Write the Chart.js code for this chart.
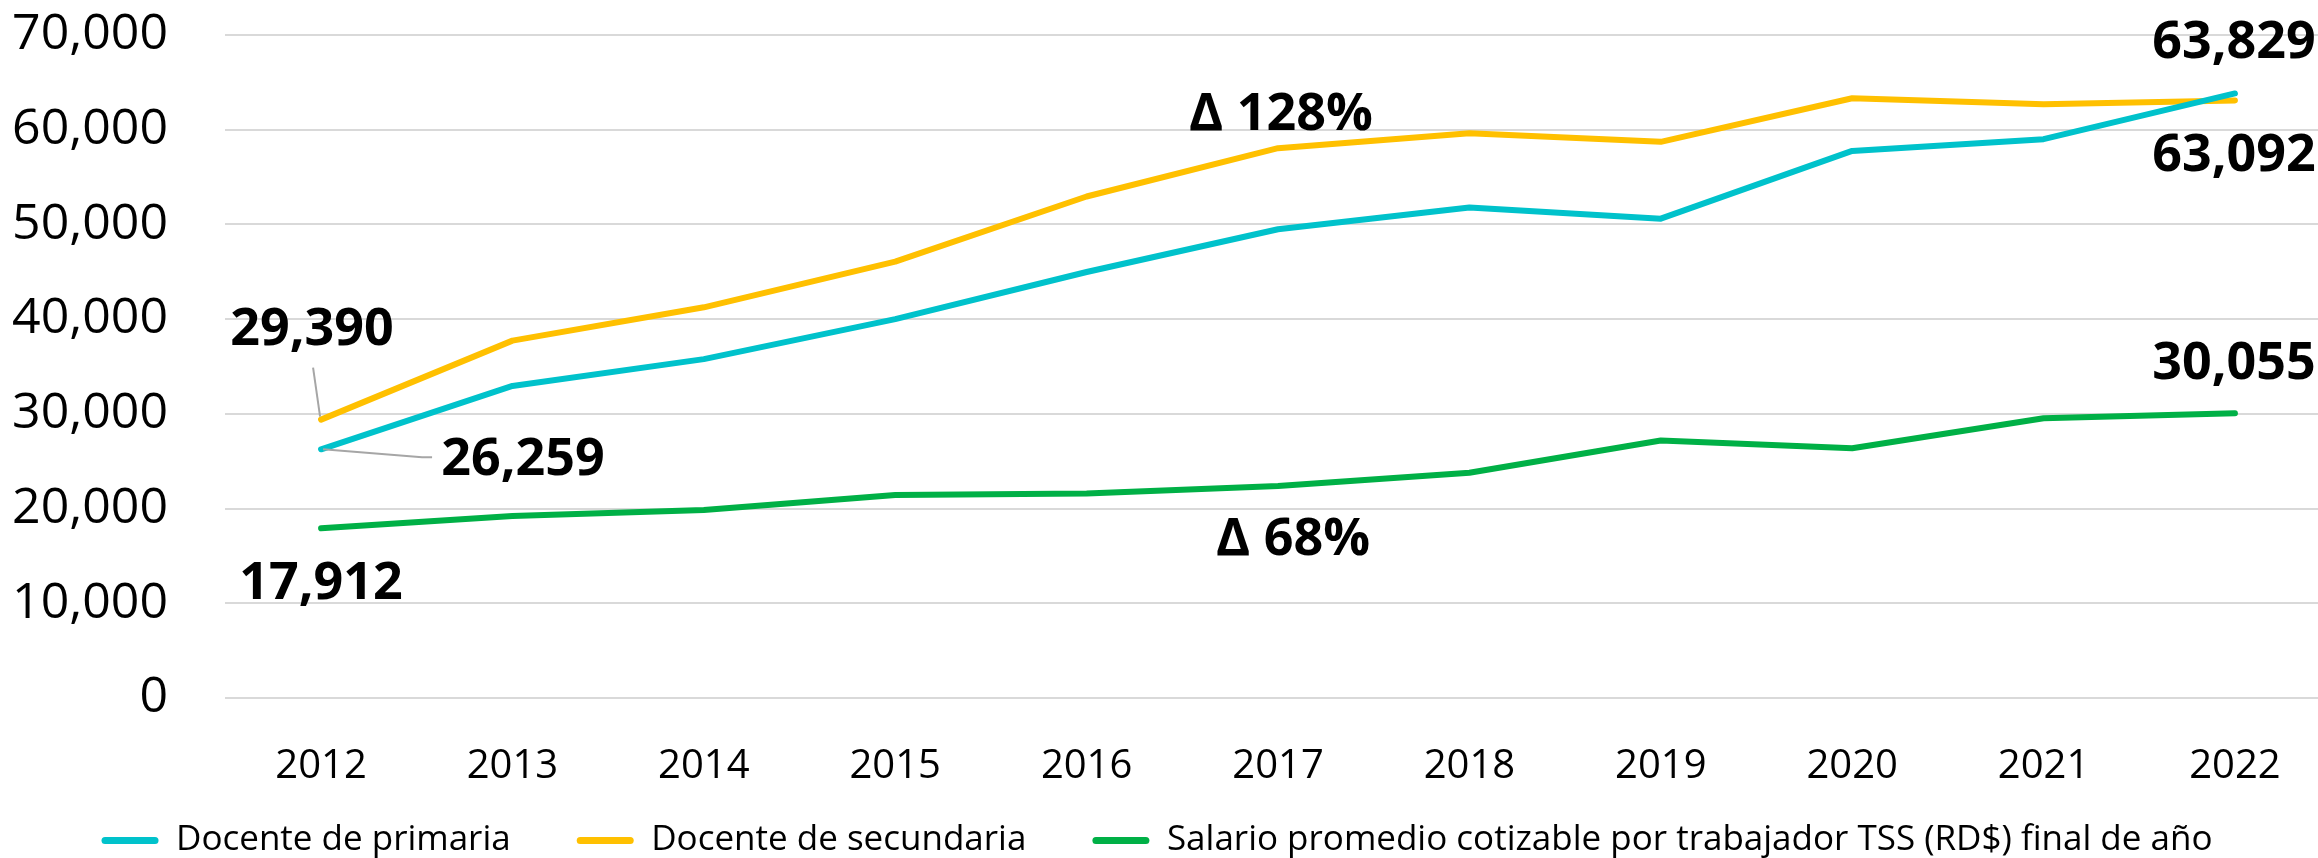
<!DOCTYPE html>
<html lang="es">
<head>
  <meta charset="UTF-8" />
  <title>Salarios docentes vs salario promedio TSS</title>
  <script src="https://cdn.jsdelivr.net/npm/chart.js"></script>
  <style>
    body {
      margin: 0;
      background: #fff;
    }
  </style>
</head>
<body>
  <canvas id="salarios" width="2318" height="858"></canvas>

  <script>
    // datos
    const years = [2012, 2013, 2014, 2015, 2016, 2017, 2018, 2019, 2020, 2021, 2022];
    const primaria = [26259, 32950, 35780, 40000, 44980, 49490, 51780, 50610, 57760, 59000, 63829];
    const secundaria = [29390, 37730, 41250, 46080, 52950, 58050, 59630, 58720, 63320, 62690, 63092];
    const salarioTSS = [17912, 19220, 19850, 21430, 21580, 22390, 23790, 27190, 26370, 29530, 30055];
    const seriesNames = [
      "Docente de primaria",
      "Docente de secundaria",
      "Salario promedio cotizable por trabajador TSS (RD$) final de año",
    ];
    const yMax = 70000;
    const yStep = 10000;

    const colors = ["#00C2CB", "#FFC000", "#00B046"];
    const font = "'Open Sans', 'Noto Sans', sans-serif";

    const fmt = (v) => v.toLocaleString("en-US");
    const last = years.length - 1;

    // variación 2012-2022
    const deltaDocentes = Math.round(((primaria[last] + secundaria[last]) / (primaria[0] + secundaria[0]) - 1) * 100);
    const deltaTSS = Math.round((salarioTSS[last] / salarioTSS[0] - 1) * 100);

    // etiquetas: serie, punto, desplazamiento en px, línea guía opcional
    const labels = [
      { ds: 1, i: 0, dx: -9, dy: -89, text: fmt(secundaria[0]), leader: [[-8, -52], [-1, -3]] },
      { ds: 0, i: 0, dx: 202, dy: 11, text: fmt(primaria[0]), leader: [[2, 0], [101, 8], [111, 8]] },
      { ds: 2, i: 0, dx: 0, dy: 56, text: fmt(salarioTSS[0]) },
      { ds: 0, i: last, dx: -1, dy: -50, text: fmt(primaria[last]) },
      { ds: 1, i: last, dx: -1, dy: 56, text: fmt(secundaria[last]) },
      { ds: 2, i: last, dx: -1, dy: -49, text: fmt(salarioTSS[last]) },
      { ds: 1, i: 5, dx: 3, dy: -33, text: "Δ " + deltaDocentes + "%" },
      { ds: 2, i: 5, dx: 15, dy: 54, text: "Δ " + deltaTSS + "%" },
    ];

    const toPoints = (arr) => arr.map((v, i) => ({ x: years[i], y: v }));

    const dataLabels = {
      id: "dataLabels",
      afterDatasetsDraw(chart) {
        const ctx = chart.ctx;
        ctx.save();
        labels.forEach((l) => {
          const pt = chart.getDatasetMeta(l.ds).data[l.i];
          if (l.leader) {
            ctx.strokeStyle = "#A6A6A6";
            ctx.lineWidth = 2;
            ctx.beginPath();
            l.leader.forEach(([ox, oy], k) => {
              if (k === 0) ctx.moveTo(pt.x + ox, pt.y + oy);
              else ctx.lineTo(pt.x + ox, pt.y + oy);
            });
            ctx.stroke();
          }
          ctx.fillStyle = "#000";
          ctx.font = "bold 52px " + font;
          ctx.textAlign = "center";
          ctx.textBaseline = "middle";
          ctx.fillText(l.text, pt.x + l.dx, pt.y + l.dy);
        });
        ctx.restore();
      },
    };

    // la leyenda de Excel tiene mucho espacio entre elementos pero poca altura:
    // se fija la altura del bloque y se sube su borde superior después del layout
    const legendBox = {
      id: "legendBox",
      beforeLayout(chart) {
        const lg = chart.legend;
        if (lg && !lg._fixed) {
          const fit = lg.fit;
          lg.fit = function () {
            fit.call(this);
            this.height = 75;
          };
          lg._fixed = true;
        }
      },
      afterLayout(chart) {
        const lg = chart.legend;
        lg.top = lg.bottom - 101;
        lg.left = -4;
      },
    };

    const series = [primaria, secundaria, salarioTSS];

    new Chart(document.getElementById("salarios"), {
      type: "line",
      data: {
        datasets: series.map((s, k) => ({
          label: seriesNames[k],
          data: toPoints(s),
          borderColor: colors[k],
          backgroundColor: colors[k],
          borderWidth: 6,
          borderCapStyle: "round",
          borderJoinStyle: "round",
          pointRadius: 0,
          tension: 0,
        })),
      },
      options: {
        responsive: false,
        animation: false,
        layout: { padding: { top: 35, left: 0, right: 0, bottom: 0 } },
        scales: {
          x: {
            type: "linear",
            min: 2011.498,
            max: 2022.434,
            afterBuildTicks: (axis) => {
              axis.ticks = years.map((y) => ({ value: y }));
            },
            afterFit: (scale) => {
              scale.height = 85;
              scale.paddingLeft = 0;
              scale.paddingRight = 0;
            },
            grid: { display: false },
            border: { display: false },
            ticks: {
              autoSkip: false,
              maxRotation: 0,
              padding: 37,
              color: "#000",
              font: { family: font, size: 40 },
              callback: (v) => String(v),
            },
          },
          y: {
            min: 0,
            max: yMax,
            afterFit: (scale) => {
              scale.width = 225;
              scale.paddingTop = 0;
              scale.paddingBottom = 0;
            },
            grid: { color: "#D9D9D9", lineWidth: 2, drawTicks: false },
            border: { display: false },
            ticks: {
              stepSize: yStep,
              padding: 57,
              color: "#000",
              font: { family: font, size: 50 },
              callback: (v) => fmt(v),
            },
          },
        },
        plugins: {
          tooltip: { enabled: false },
          legend: {
            position: "bottom",
            labels: {
              boxWidth: 57,
              boxHeight: 7,
              padding: 66,
              color: "#000",
              font: { family: font, size: 35 },
              useBorderRadius: true,
              borderRadius: 3.5,
              generateLabels: (chart) =>
                Chart.defaults.plugins.legend.labels
                  .generateLabels(chart)
                  .map((l) => ({ ...l, fillStyle: l.strokeStyle, lineWidth: 0 })),
            },
          },
        },
      },
      plugins: [dataLabels, legendBox],
    });
  </script>
</body>
</html>
